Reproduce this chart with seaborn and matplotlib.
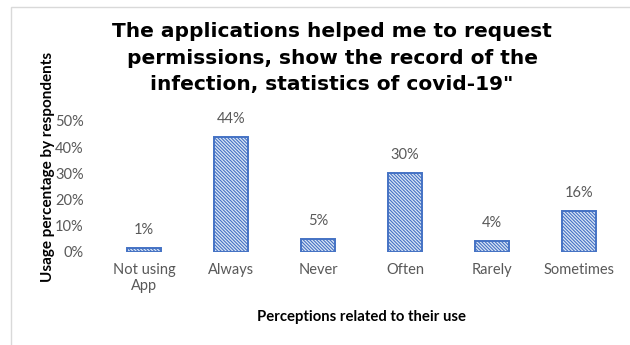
import matplotlib
matplotlib.use("Agg")
import matplotlib.pyplot as plt
import matplotlib.patches as mpatches
import seaborn as sns
import pandas as pd

categories = ["Not using\nApp", "Always", "Never", "Often", "Rarely", "Sometimes"]
shares = [0.014, 0.44, 0.048, 0.30, 0.042, 0.156]
y_ticks = [0.0, 0.1, 0.2, 0.3, 0.4, 0.5]

title = ("The applications helped me to request\n"
         "permissions, show the record of the\n"
         "infection, statistics of covid-19\"")
x_label = "Perceptions related to their use"
y_label = "Usage percentage by respondents"

sns.set_theme(style="white")
plt.rcParams["font.family"] = ["Lato", "DejaVu Sans"]
plt.rcParams["hatch.linewidth"] = 0.8
plt.rcParams["hatch.color"] = "#4472C4"

df = pd.DataFrame({"category": categories, "share": shares})

fig = plt.figure(figsize=(6.3, 3.45), dpi=100)
ax = fig.add_axes([0.1595, 0.2696, 0.8285, 0.3797])

sns.barplot(data=df, x="category", y="share", ax=ax, width=0.39,
            color="#dce6f5", edgecolor="#4472C4", linewidth=1.4,
            hatch="\\" * 10, saturation=1)

ax.set_ylim(0, 0.5)
ax.set_xlim(-0.5, len(categories) - 0.5)
ax.set_yticks(y_ticks)
ax.set_yticklabels([f"{t:.0%}" for t in y_ticks])
ax.tick_params(axis="both", length=0, labelsize=10.5, labelcolor="#595959")
ax.tick_params(axis="y", pad=12)
ax.tick_params(axis="x", pad=8)
for s in ax.spines.values():
    s.set_visible(False)

for i, v in enumerate(shares):
    ax.annotate(f"{v:.0%}", (i, v), xytext=(0, 8), textcoords="offset points",
                ha="center", va="bottom", fontsize=10.5, color="#595959",
                annotation_clip=False)

ax.set_xlabel(x_label, fontsize=10.7, fontweight="bold", color="black", labelpad=12)
ax.set_ylabel(y_label, fontsize=11, fontweight="bold", color="black")
ax.yaxis.set_label_coords(-0.088, 0.65)

fig.text(0.527, 0.935, title, ha="center", va="top", fontsize=14.5,
         fontweight="bold", color="black", linespacing=1.5,
         family=["DejaVu Sans"])

border = mpatches.Rectangle((11 / 630, -0.1), 1.2, 1 - 7 / 345 + 0.1,
                            transform=fig.transFigure, fill=False,
                            edgecolor="#d9d9d9", linewidth=1)
fig.patches.append(border)

fig.savefig("out.png", dpi=100)
